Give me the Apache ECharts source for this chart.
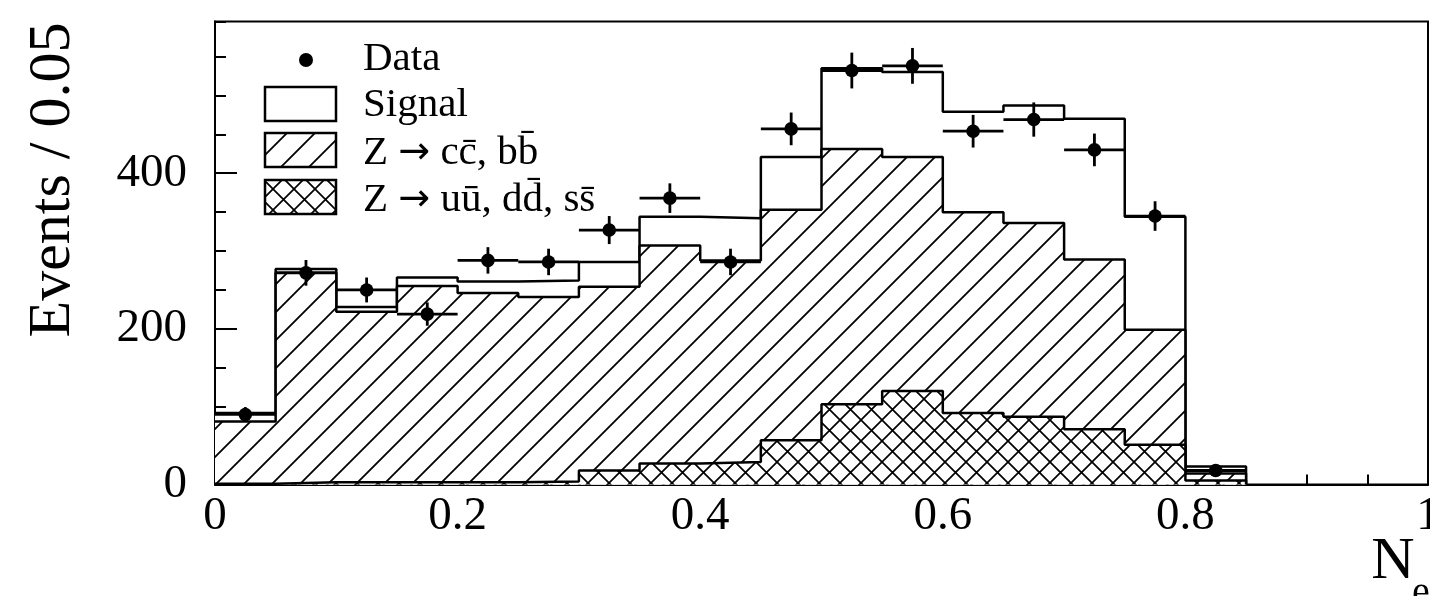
<!DOCTYPE html>
<html>
<head>
<meta charset="utf-8">
<title>Events / 0.05 vs Ne</title>
<script src="https://cdn.jsdelivr.net/npm/echarts@6/dist/echarts.min.js"></script>
<style>
  html, body { margin: 0; padding: 0; background: #fff; }
  #chart { width: 1430px; height: 596px; }
</style>
</head>
<body>
<div id="chart"></div>
<script>
// histogram bins, width 0.05
var binLow = [0, 0.05, 0.1, 0.15, 0.2, 0.25, 0.3, 0.35, 0.4, 0.45, 0.5, 0.55, 0.6, 0.65, 0.7, 0.75, 0.8];
var binWidth = 0.05;

// stacked tops: uds, uds+ccbb, uds+ccbb+signal
var udsTop    = [1, 3, 3, 3, 3, 4, 18, 27, 29, 57, 103, 120, 92, 87, 71, 51, 5];
var ccbbTop   = [81, 272, 222, 255, 246, 241, 254, 307, 288, 353, 431, 421, 350, 336, 289, 199, 14];
var signalTop = [92, 277, 228, 266, 261, 262, 286, 344, 342, 421, 535, 530, 479, 487, 470, 344, 23];

// data points and errors
var dataVal = [90, 272, 250, 219, 288, 286, 327, 368, 286, 457, 532, 538, 454, 469, 430, 345, 18];
var dataErr = [9.5, 16.5, 16, 15, 17, 17, 18, 19, 17, 21, 23, 23, 21, 22, 21, 19, 4];

var FONT = '"Liberation Serif", "DejaVu Serif", serif';

function hatchTile(size, back, fwd, lw) {
    var c = document.createElement('canvas');
    c.width = size; c.height = size;
    var g = c.getContext('2d');
    g.fillStyle = '#fff';
    g.fillRect(0, 0, size, size);
    g.strokeStyle = '#000';
    g.lineWidth = lw;
    g.beginPath();
    if (fwd) {
        g.moveTo(-2, size + 2); g.lineTo(size + 2, -2);
        g.moveTo(-2, 2); g.lineTo(2, -2);
        g.moveTo(size - 2, size + 2); g.lineTo(size + 2, size - 2);
    }
    if (back) {
        g.moveTo(-2, -2); g.lineTo(size + 2, size + 2);
        g.moveTo(-2, size - 2); g.lineTo(2, size + 2);
        g.moveTo(size - 2, -2); g.lineTo(size + 2, 2);
    }
    g.stroke();
    return c;
}

var hatchPat = { image: hatchTile(28, false, true, 1.8), repeat: 'repeat' };
var crossPat = { image: hatchTile(21, true, true, 1.7), repeat: 'repeat' };

function stepPoints(tops) {
    var pts = tops.map(function (v, i) { return [binLow[i], v]; });
    pts.push([binLow[binLow.length - 1] + binWidth, 0]);
    return pts;
}

function histSeries(name, tops, fill, z) {
    return {
        name: name,
        type: 'line',
        step: 'end',
        z: z,
        showSymbol: false,
        silent: true,
        lineStyle: { color: '#000', width: 2.5 },
        areaStyle: { color: fill, opacity: 1 },
        data: stepPoints(tops)
    };
}

var dataItems = dataVal.map(function (v, i) {
    return [binLow[i], binLow[i] + binWidth, v, dataErr[i]];
});

var legendRich = {
    t: { fontSize: 41, fontFamily: FONT, color: '#000' },
    a: { fontSize: 38, fontFamily: '"DejaVu Sans", sans-serif', color: '#000' }
};

var chart = echarts.init(document.getElementById('chart'));

var option = {
    animation: false,
    backgroundColor: '#fff',
    grid: {
        left: 215, right: 2, top: 21.5, bottom: 111.5,
        outerBoundsMode: 'none', containLabel: false,
        show: true, borderColor: '#000', borderWidth: 2, backgroundColor: 'transparent'
    },
    xAxis: {
        type: 'value', min: 0, max: 1, interval: 0.2,
        axisLine: { show: true, lineStyle: { color: '#000', width: 2 } },
        axisTick: { inside: true, length: 20, lineStyle: { color: '#000', width: 2 } },
        minorTick: { show: true, splitNumber: 4, length: 10, lineStyle: { color: '#000', width: 2 } },
        splitLine: { show: false },
        axisLabel: { margin: 9, fontSize: 47, fontFamily: FONT, color: '#000' }
    },
    yAxis: [{
        type: 'value', min: 0, max: 595, interval: 200,
        axisLine: { show: true, lineStyle: { color: '#000', width: 2 } },
        axisTick: { inside: true, length: 22, lineStyle: { color: '#000', width: 2 } },
        splitLine: { show: false },
        axisLabel: { margin: 28, fontSize: 47, fontFamily: FONT, color: '#000', showMaxLabel: false }
    }, {
        type: 'value', min: 0, max: 595, interval: 50, position: 'left',
        axisLine: { show: false },
        axisTick: { inside: true, length: 11, lineStyle: { color: '#000', width: 2 } },
        splitLine: { show: false },
        axisLabel: { show: false }
    }],
    series: [
        histSeries('Signal', signalTop, '#fff', 2),
        histSeries('Z \u2192 cc\u0304, bb\u0304', ccbbTop, hatchPat, 3),
        histSeries('Z \u2192 uu\u0304, dd\u0304, ss\u0304', udsTop, crossPat, 4),
        {
            name: 'Data',
            type: 'custom',
            z: 6,
            silent: true,
            dimensions: ['lo', 'hi', 'val', 'err'],
            encode: { x: [0, 1], y: 2 },
            renderItem: function (params, api) {
                var x0 = api.value(0), x1 = api.value(1), v = api.value(2), e = api.value(3);
                var xm = (x0 + x1) / 2;
                var pL = api.coord([x0, v]), pR = api.coord([x1, v]);
                var pT = api.coord([xm, v + e]), pB = api.coord([xm, v - e]);
                var c = api.coord([xm, v]);
                return {
                    type: 'group',
                    children: [
                        { type: 'line', shape: { x1: pL[0], y1: pL[1], x2: pR[0], y2: pR[1] }, style: { stroke: '#000', lineWidth: 2.8 } },
                        { type: 'line', shape: { x1: pT[0], y1: pT[1], x2: pB[0], y2: pB[1] }, style: { stroke: '#000', lineWidth: 2.8 } },
                        { type: 'circle', shape: { cx: c[0], cy: c[1], r: 6.8 }, style: { fill: '#000' } }
                    ]
                };
            },
            data: dataItems
        }
    ],
    graphic: [
        // axis titles
        { type: 'text', x: 53, y: 180, rotation: Math.PI / 2, z: 10,
          style: { text: 'Events / 0.05', font: '60px ' + FONT, fill: '#000', align: 'center', verticalAlign: 'middle' } },
        { type: 'text', x: 1393, y: 562, z: 10,
          style: { text: 'N', font: '60px ' + FONT, fill: '#000', align: 'center', verticalAlign: 'middle' } },
        { type: 'text', x: 1421, y: 593, z: 10,
          style: { text: 'e', font: '40px ' + FONT, fill: '#000', align: 'center', verticalAlign: 'middle' } },
        // legend
        { type: 'circle', z: 10, shape: { cx: 306, cy: 60, r: 7 }, style: { fill: '#000' } },
        { type: 'text', x: 363, y: 59, z: 10,
          style: { text: 'Data', font: '41px ' + FONT, fill: '#000', align: 'left', verticalAlign: 'middle' } },
        { type: 'rect', z: 10, shape: { x: 265, y: 87, width: 71, height: 34 }, style: { fill: '#fff', stroke: '#000', lineWidth: 2.5 } },
        { type: 'text', x: 363, y: 105, z: 10,
          style: { text: 'Signal', font: '41px ' + FONT, fill: '#000', align: 'left', verticalAlign: 'middle' } },
        { type: 'rect', z: 10, shape: { x: 265, y: 133, width: 71, height: 34 }, style: { fill: hatchPat, stroke: '#000', lineWidth: 2.5 } },
        { type: 'text', x: 363, y: 153, z: 10,
          style: { text: '{t|Z }{a|\u2192}{t| cc\u0304, bb\u0304}', rich: legendRich, fill: '#000', align: 'left', verticalAlign: 'middle' } },
        { type: 'rect', z: 10, shape: { x: 265, y: 180, width: 71, height: 34 }, style: { fill: crossPat, stroke: '#000', lineWidth: 2.5 } },
        { type: 'text', x: 363, y: 200, z: 10,
          style: { text: '{t|Z }{a|\u2192}{t| uu\u0304, dd\u0304, ss\u0304}', rich: legendRich, fill: '#000', align: 'left', verticalAlign: 'middle' } }
    ]
};

chart.setOption(option);
window.addEventListener('resize', chart.resize);
</script>
</body>
</html>
